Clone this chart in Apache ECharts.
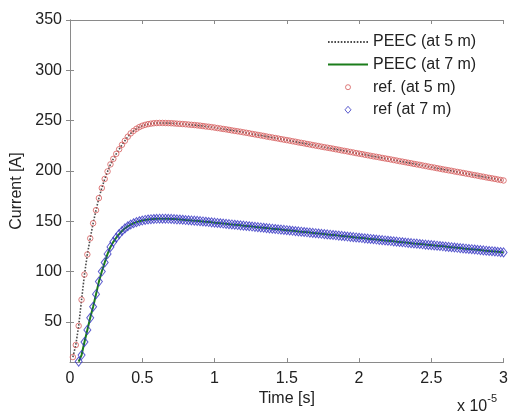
<!DOCTYPE html>
<html>
<head>
<meta charset="utf-8">
<script src="https://cdn.jsdelivr.net/npm/echarts@6/dist/echarts.min.js"></script>
<style>
html,body{margin:0;padding:0;background:#fff;}
#chart{width:511px;height:412px;}
</style>
</head>
<body>
<div id="chart"></div>
<script>
// sample times (x 1e-5 s), one sample every 0.02
const time = Array.from({length: 150}, (_, i) => +(0.02 * (i + 1)).toFixed(2));

const xTicks = [0, 0.5, 1, 1.5, 2, 2.5, 3];
const yTicks = [50, 100, 150, 200, 250, 300, 350];

const seriesNames = ['PEEC (at 5 m)', 'PEEC (at 7 m)', 'ref. (at 5 m)', 'ref (at 7 m)'];

// reference at 5 m
const ref5 = [
  15, 27, 46, 72, 97, 117, 133, 148, 161, 173,
  183, 192, 199.5, 206.5, 212, 217, 221.5, 226, 230, 234,
  237.3, 239.8, 241.9, 243.6, 244.9, 245.8, 246.5, 247.0, 247.4, 247.6,
  247.7, 247.7, 247.6, 247.5, 247.4, 247.2, 247.0, 246.8, 246.6, 246.4,
  246.1, 245.8, 245.6, 245.3, 245.0, 244.6, 244.2, 243.9, 243.5, 243.1,
  242.6, 242.2, 241.7, 241.3, 240.8, 240.3, 239.8, 239.4, 238.9, 238.4,
  237.9, 237.4, 236.8, 236.3, 235.8, 235.3, 234.8, 234.2, 233.7, 233.2,
  232.7, 232.2, 231.6, 231.1, 230.6, 230.1, 229.5, 229.0, 228.4, 227.9,
  227.4, 226.8, 226.3, 225.7, 225.2, 224.7, 224.1, 223.6, 223.1, 222.6,
  222.1, 221.5, 221.0, 220.4, 219.9, 219.4, 218.8, 218.3, 217.7, 217.2,
  216.7, 216.1, 215.6, 215.0, 214.5, 214.0, 213.5, 212.9, 212.4, 211.9,
  211.4, 210.8, 210.3, 209.7, 209.2, 208.7, 208.1, 207.6, 207.0, 206.5,
  206.0, 205.4, 204.9, 204.3, 203.8, 203.3, 202.7, 202.2, 201.6, 201.1,
  200.6, 200.1, 199.5, 199.0, 198.5, 198.0, 197.4, 196.9, 196.3, 195.8,
  195.3, 194.7, 194.2, 193.6, 193.1, 192.6, 192.1, 191.5, 191.0, 190.5
];

// reference at 7 m
const ref7 = [
  null, null, 10.5, 17, 30, 42, 54, 65, 77.5, 90,
  100, 109, 117.5, 124.5, 129.5, 133.6, 137.2, 140.3, 142.9, 145.0,
  146.7, 148.0, 149.1, 150.0, 150.7, 151.3, 151.7, 152.0, 152.2, 152.4,
  152.5, 152.5, 152.5, 152.4, 152.3, 152.1, 151.9, 151.7, 151.5, 151.2,
  151.0, 150.8, 150.6, 150.4, 150.1, 149.8, 149.5, 149.2, 148.9, 148.6,
  148.3, 148.0, 147.7, 147.4, 147.1, 146.8, 146.5, 146.2, 145.9, 145.6,
  145.3, 145.0, 144.7, 144.4, 144.1, 143.8, 143.5, 143.2, 142.9, 142.6,
  142.3, 142.0, 141.7, 141.4, 141.1, 140.8, 140.5, 140.2, 139.9, 139.6,
  139.3, 139.0, 138.7, 138.4, 138.1, 137.8, 137.5, 137.2, 136.9, 136.6,
  136.3, 136.0, 135.7, 135.4, 135.1, 134.8, 134.5, 134.2, 133.9, 133.6,
  133.3, 133.0, 132.7, 132.4, 132.1, 131.8, 131.5, 131.2, 130.9, 130.6,
  130.3, 130.0, 129.7, 129.4, 129.1, 128.8, 128.5, 128.2, 127.9, 127.7,
  127.4, 127.1, 126.8, 126.5, 126.3, 126.0, 125.7, 125.4, 125.1, 124.8,
  124.5, 124.2, 123.9, 123.6, 123.3, 123.0, 122.7, 122.4, 122.2, 121.9,
  121.6, 121.3, 121.0, 120.7, 120.4, 120.2, 119.9, 119.6, 119.3, 119.0
];

// PEEC results coincide with the reference curves
const peec5 = ref5;
const peec7 = ref7;

const pairs = (ys) => time.map((t, i) => [t, ys[i]]);

const FONT = 'Liberation Sans, Arial, sans-serif';
const AX = '#8a8a8a';
const TXT = '#222';
const RED = '#d65c5c';
const BLUE = '#3333c2';
const NOFILL = 'rgba(0,0,0,0)';

const chart = echarts.init(document.getElementById('chart'), null, {renderer: 'canvas'});

const tickStyle = {show: true, inside: true, length: 4, lineStyle: {color: AX}};
const boxAxis = {
  axisLine: {show: true, lineStyle: {color: AX, width: 1}},
  axisTick: tickStyle,
  splitLine: {show: false}
};

chart.setOption({
  animation: false,
  backgroundColor: '#fff',
  grid: {left: 70, right: 7, top: 20, bottom: 49, containLabel: false},
  legend: {
    orient: 'vertical',
    left: 327,
    top: 34,
    padding: 0,
    itemWidth: 40,
    itemHeight: 8,
    itemGap: 6.6,
    data: [
      {name: seriesNames[0], itemStyle: {color: NOFILL, borderWidth: 0}},
      {name: seriesNames[1], itemStyle: {color: NOFILL, borderWidth: 0}},
      {name: seriesNames[2], icon: 'path://M0,0M40,8M17.5,4A2.5,2.5 0 1,0 22.5,4A2.5,2.5 0 1,0 17.5,4Z',
        itemStyle: {color: NOFILL, borderColor: RED, borderWidth: 1}},
      {name: seriesNames[3], icon: 'path://M0,0M40,8M20,0.5L23,4L20,7.5L17,4Z',
        itemStyle: {color: NOFILL, borderColor: BLUE, borderWidth: 1}}
    ],
    textStyle: {fontFamily: FONT, fontSize: 16, color: TXT, lineHeight: 16}
  },
  xAxis: [
    Object.assign({
      type: 'value', min: 0, max: 3, interval: 0.5, position: 'bottom',
      name: 'Time [s]', nameLocation: 'middle', nameGap: 27,
      nameTextStyle: {fontFamily: FONT, fontSize: 16, color: TXT},
      axisLabel: {fontFamily: FONT, fontSize: 16, color: TXT, margin: 8,
        customValues: xTicks}
    }, boxAxis),
    Object.assign({
      type: 'value', min: 0, max: 3, interval: 0.5, position: 'top',
      axisLabel: {show: false}
    }, boxAxis)
  ],
  yAxis: [
    Object.assign({
      type: 'value', min: 10, max: 350, position: 'left',
      name: 'Current [A]', nameLocation: 'middle', nameGap: 42,
      nameTextStyle: {fontFamily: FONT, fontSize: 16, color: TXT},
      axisLabel: {fontFamily: FONT, fontSize: 16, color: TXT, margin: 8,
        customValues: yTicks}
    }, boxAxis, {axisTick: Object.assign({customValues: yTicks}, tickStyle)}),
    Object.assign({
      type: 'value', min: 10, max: 350, position: 'right',
      axisLabel: {show: false, customValues: yTicks}
    }, boxAxis, {axisTick: Object.assign({customValues: yTicks}, tickStyle)})
  ],
  series: [
    {
      name: seriesNames[0], type: 'line', data: pairs(peec5),
      symbol: 'none', showSymbol: false,
      lineStyle: {color: '#4a4a4a', width: 1.6, type: [1.6, 1.6]},
      itemStyle: {color: '#4a4a4a'}, z: 2
    },
    {
      name: seriesNames[1], type: 'line', data: pairs(peec7),
      symbol: 'none', showSymbol: false,
      lineStyle: {color: '#1b7d1b', width: 2},
      itemStyle: {color: '#1b7d1b'}, z: 2
    },
    {
      name: seriesNames[2], type: 'scatter', data: pairs(ref5),
      symbol: 'circle', symbolSize: 5.5,
      itemStyle: {color: NOFILL, borderColor: RED, borderWidth: 1},
      z: 3
    },
    {
      name: seriesNames[3], type: 'scatter', data: pairs(ref7),
      symbol: 'diamond', symbolSize: [7, 9],
      itemStyle: {color: NOFILL, borderColor: BLUE, borderWidth: 1},
      z: 3
    }
  ],
  graphic: [
    {
      type: 'text', left: 457, top: 393,
      style: {
        text: '{a|x 10}{s|-5}',
        rich: {
          a: {fontFamily: FONT, fontSize: 16, fill: TXT, verticalAlign: 'bottom', lineHeight: 22},
          s: {fontFamily: FONT, fontSize: 11, fill: TXT, verticalAlign: 'top', lineHeight: 22}
        }
      }
    }
  ]
});
</script>
</body>
</html>
